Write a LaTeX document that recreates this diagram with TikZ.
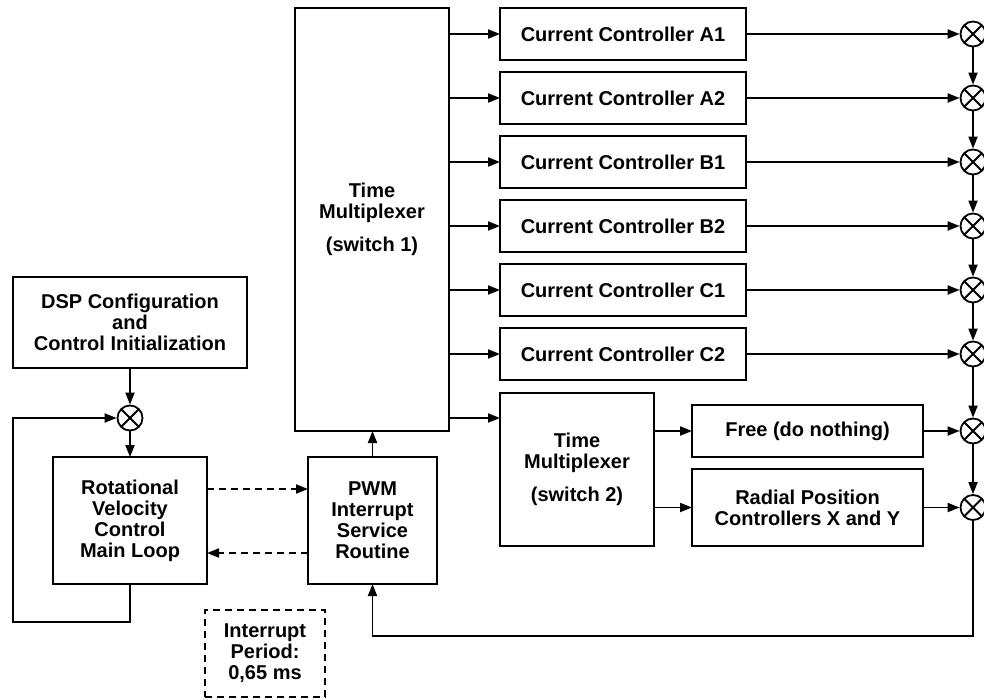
\documentclass[tikz,border=0pt]{standalone}
\usepackage{fontspec}
\setmainfont{Liberation Sans}
\usetikzlibrary{arrows.meta,positioning}

\begin{document}
\begin{tikzpicture}[x=1pt,y=-1pt,
  node distance=12pt and 12pt,
  font=\bfseries\fontsize{20}{21}\selectfont,
  line width=1.8pt,
  box/.style={draw,align=center,inner sep=0pt,outer sep=0pt},
  ctrl/.style={box,minimum width=246pt,minimum height=52pt},
  sum/.style={circle,draw,minimum size=25pt,inner sep=0pt,
    path picture={\draw (path picture bounding box.north west)--(path picture bounding box.south east)
      (path picture bounding box.north east)--(path picture bounding box.south west);}},
  arrow/.style={-{Triangle[length=12pt,width=9pt]}},
  dasharrow/.style={arrow,dash pattern=on 7pt off 5pt}]
  \useasboundingbox (0,0) rectangle (984,700);
  \node[box,minimum width=154pt,minimum height=423pt] (mux1) at (372,219.5) {Time\\Multiplexer\\[12pt](switch 1)};
  \node[ctrl] (ccA1) at (623,34) {Current Controller A1};
  \node[ctrl,below=of ccA1] (ccA2) {Current Controller A2};
  \node[ctrl,below=of ccA2] (ccB1) {Current Controller B1};
  \node[ctrl,below=of ccB1] (ccB2) {Current Controller B2};
  \node[ctrl,below=of ccB2] (ccC1) {Current Controller C1};
  \node[ctrl,below=of ccC1] (ccC2) {Current Controller C2};
  \node[box,minimum width=154pt,minimum height=153pt] (mux2) at (577,469.5) {Time\\Multiplexer\\[12pt](switch 2)};
  \node[box,minimum width=231pt,minimum height=52pt] (free) at (807.5,431) {Free (do nothing)};
  \node[box,minimum width=231pt,minimum height=77pt,below=of free] (radial) {Radial Position\\Controllers X and Y};
  \node[box,minimum width=129pt,minimum height=127pt] (pwm) at (372.5,520.5) {PWM\\Interrupt\\Service\\Routine};
  \node[box,minimum width=154pt,minimum height=127pt] (rvc) at (130,520.5) {Rotational\\Velocity\\Control\\Main Loop};
  \node[box,minimum width=234pt,minimum height=91pt] (dsp) at (130,322.5) {DSP Configuration\\and\\Control Initialization};
  \node[box,dash pattern=on 7pt off 5pt,minimum width=120pt,minimum height=87pt] (irq) at (265,653.5) {Interrupt\\Period:\\0,65 ms};
  \node[sum] (s0) at (130,418) {};
  \node[sum] (s1) at (973,34) {};
  \node[sum] (s2) at (973,98) {};
  \node[sum] (s3) at (973,162) {};
  \node[sum] (s4) at (973,226) {};
  \node[sum] (s5) at (973,290) {};
  \node[sum] (s6) at (973,354) {};
  \node[sum] (s7) at (973,431) {};
  \node[sum] (s8) at (973,507.5) {};
  \coordinate (m2in) at ([yshift=-25pt]mux2.north west);
  \draw[arrow] (ccA1.west -| mux1.east) -- (ccA1.west);
  \draw[arrow] (ccA2.west -| mux1.east) -- (ccA2.west);
  \draw[arrow] (ccB1.west -| mux1.east) -- (ccB1.west);
  \draw[arrow] (ccB2.west -| mux1.east) -- (ccB2.west);
  \draw[arrow] (ccC1.west -| mux1.east) -- (ccC1.west);
  \draw[arrow] (ccC2.west -| mux1.east) -- (ccC2.west);
  \draw[arrow] (m2in -| mux1.east) -- (m2in);
  \draw[arrow] (free.west -| mux2.east) -- (free.west);
  \draw[arrow] (radial.west -| mux2.east) -- (radial.west);
  \draw[arrow] (ccA1) -- (s1);
  \draw[arrow] (ccA2) -- (s2);
  \draw[arrow] (ccB1) -- (s3);
  \draw[arrow] (ccB2) -- (s4);
  \draw[arrow] (ccC1) -- (s5);
  \draw[arrow] (ccC2) -- (s6);
  \draw[arrow] (free) -- (s7);
  \draw[arrow] (radial) -- (s8);
  \draw[arrow] (s1) -- (s2);
  \draw[arrow] (s2) -- (s3);
  \draw[arrow] (s3) -- (s4);
  \draw[arrow] (s4) -- (s5);
  \draw[arrow] (s5) -- (s6);
  \draw[arrow] (s6) -- (s7);
  \draw[arrow] (s7) -- (s8);
  \draw[arrow] (s8) |- ([yshift=-52pt]pwm.south) -- (pwm.south);
  \draw[arrow] (pwm.north) -- (pwm.north |- mux1.south);
  \draw[arrow] (dsp) -- (s0);
  \draw[arrow] (s0) -- (rvc);
  \draw[arrow] (rvc.south) -- ++(0,38) -| (dsp.west |- s0) -- (s0);
  \draw[dasharrow] ([yshift=31.5pt]rvc.east) -- ([yshift=31.5pt]pwm.west);
  \draw[dasharrow] ([yshift=-32.5pt]pwm.west) -- ([yshift=-32.5pt]rvc.east);
\end{tikzpicture}
\end{document}
